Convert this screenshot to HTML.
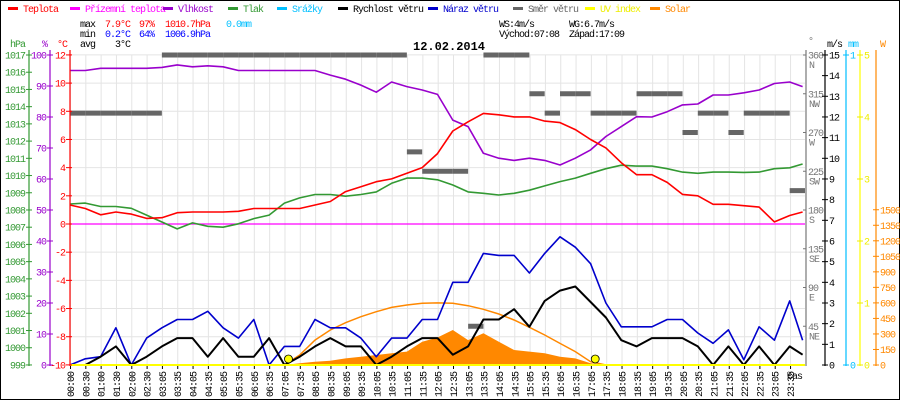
<!DOCTYPE html>
<html><head><meta charset="utf-8"><style>
html,body{margin:0;padding:0;background:#fff}
#wrap{position:relative;width:900px;height:400px;overflow:hidden}
svg text{font-family:"Liberation Mono",monospace;font-size:10px;letter-spacing:-1px}
</style></head><body>
<div id="wrap">
<svg id="chart" width="900" height="400" xmlns="http://www.w3.org/2000/svg">
<rect x="0.5" y="0.5" width="899" height="399" fill="#fff" stroke="#000"/>
<g id="legend"></g>
<g id="grid"></g>
<g id="series"></g>
<g id="axes"></g>
<g>
<text x="80" y="27" fill="#000">max</text>
<text x="105" y="27" fill="#f00">7.9°C</text>
<text x="139" y="27" fill="#f00">97%</text>
<text x="165" y="27" fill="#f00">1010.7hPa</text>
<text x="226" y="27" fill="#00bfff">0.0mm</text>
<text x="80" y="37" fill="#000">min</text>
<text x="105" y="37" fill="#00f">0.2°C</text>
<text x="139" y="37" fill="#00f">64%</text>
<text x="165" y="37" fill="#00f">1006.9hPa</text>
<text x="80" y="47" fill="#000">avg</text>
<text x="115" y="47" fill="#000">3°C</text>
<text x="499" y="27" fill="#000">WS:4m/s</text>
<text x="569" y="27" fill="#000">WG:6.7m/s</text>
<text x="499" y="37" fill="#000">Východ:07:08</text>
<text x="569" y="37" fill="#000">Západ:17:09</text>
<text x="413" y="50" fill="#000" style="font-size:12px;font-weight:bold;letter-spacing:0">12.02.2014</text>
<text x="787" y="379" fill="#000">čas</text>
</g>
</svg>
</div>
<script>
const temp=[1.35,1.1,0.65,0.85,0.7,0.4,0.45,0.8,0.85,0.85,0.85,0.9,1.1,1.1,1.1,1.1,1.35,1.6,2.3,2.65,3.0,3.2,3.6,4.0,5.0,6.6,7.25,7.85,7.75,7.6,7.6,7.3,7.2,6.7,6.0,5.4,4.35,3.5,3.5,2.95,2.1,2.0,1.4,1.4,1.3,1.2,0.15,0.6,0.85];
const hum=[95,95,95.7,95.7,95.7,95.7,96,96.8,96.2,96.5,96.2,95,95,95,95,95,95,93.5,92.2,90.3,88,91.3,89.8,88.7,87.3,79,76.9,68.3,66.7,66,66.7,66,64.5,66.7,69.4,73.7,76.9,80.1,80,81.7,83.9,84.2,87.1,87.1,87.8,88.7,90.8,91.3,89.8];
const pres=[1008.35,1008.4,1008.2,1008.2,1008.1,1007.7,1007.3,1006.9,1007.25,1007.05,1007.0,1007.2,1007.5,1007.7,1008.4,1008.7,1008.9,1008.9,1008.8,1008.9,1009.05,1009.55,1009.85,1009.85,1009.75,1009.45,1009.05,1008.97,1008.87,1008.97,1009.15,1009.4,1009.65,1009.85,1010.13,1010.4,1010.6,1010.55,1010.55,1010.4,1010.2,1010.13,1010.2,1010.2,1010.18,1010.2,1010.4,1010.45,1010.67];
const wind=[0,0,0.4,0.9,0,0.4,0.9,1.3,1.3,0.4,1.3,0.4,0.4,1.3,0,0.4,0.9,1.3,0.9,0.9,0,0.4,0.9,1.3,1.3,0.5,0.9,2.2,2.2,2.7,1.85,3.1,3.6,3.8,3.05,2.3,1.2,0.9,1.3,1.3,1.3,0.9,0,0.9,0,0.9,0,0.9,0.5];
const gust=[0,0.3,0.4,1.8,0,1.3,1.8,2.2,2.2,2.6,1.8,1.3,2.2,0,0.9,0.9,2.2,1.8,1.8,1.3,0.4,1.3,1.3,2.2,2.2,4.0,4.0,5.4,5.3,5.3,4.45,5.4,6.2,5.7,4.9,3.0,1.85,1.85,1.85,2.2,2.2,1.55,1.05,1.7,0.25,1.85,1.2,3.1,1.2];
const solar=[0,0,0,0,0,0,0,0,0,0,0,0,0,0,0,16,32,42,64,80,97,113,129,225,266,338,241,306,225,145,129,113,80,64,16,0,0,0,0,0,0,0,0,0,0,0,0,0,0];
const solarTheo=[0,0,0,0,0,0,0,0,0,0,0,0,0,0,0,97,241,338,409,467,515,557,580,596,600,596,573,538,493,435,364,290,209,129,32,0,0,0,0,0,0,0,0,0,0,0,0,0,0];
const dir=[292.5,292.5,292.5,292.5,292.5,292.5,360,360,360,360,360,360,360,360,360,360,360,360,360,360,360,360,247.5,225,225,225,45,360,360,360,315,292.5,315,315,292.5,292.5,292.5,315,315,315,270,292.5,292.5,270,292.5,292.5,292.5,202.5];
const timeLabels=["00:00","00:30","01:00","01:30","02:00","02:30","03:05","03:35","04:05","04:35","05:05","05:35","06:05","06:35","07:05","07:35","08:05","08:35","09:05","09:35","10:05","10:35","11:05","11:35","12:05","12:35","13:05","13:35","14:05","14:35","15:05","15:35","16:05","16:35","17:05","17:35","18:05","18:35","19:05","19:35","20:05","20:35","21:05","21:35","22:05","22:35","23:05","23:35"];
const tempTicks=[12,10,8,6,4,2,0,-2,-4,-6,-8,-10];
const presTicks=[1017,1016,1015,1014,1013,1012,1011,1010,1009,1008,1007,1006,1005,1004,1003,1002,1001,1000,999];
const humTicks=[100,90,80,70,60,50,40,30,20,10,0];
const windTicks=[15,14,13,12,11,10,9,8,7,6,5,4,3,2,1,0];
const dirTicks=[360,315,270,225,180,135,90,45];
const dirNames=["N","NW","W","SW","S","SE","E","NE"];
const uvTicks=[5,4,3,2,1,0];
const solarTicks=[1500,1350,1200,1050,900,750,600,450,300,150,0];

const X0=70,X1=805;
const xT=h=>X0+h*(X1-X0)/24;
const xi=i=>xT(Math.min(i*0.5,23.92));
const yT=v=>224-v*14.09;
const yH=v=>365-v*3.1;
const yP=v=>55+(1017-v)*17.22;
const yW=v=>365-v*20.67;
const yS=v=>365-v*0.1035;
const yD=v=>365-v*0.8611;
const NS="http://www.w3.org/2000/svg";
function mk(parent,tag,attrs){const e=document.createElementNS(NS,tag);for(const k in attrs)e.setAttribute(k,attrs[k]);parent.appendChild(e);return e;}
function txt(parent,x,y,s,fill,anchor){const e=mk(parent,'text',{x:x,y:y,fill:fill,'text-anchor':anchor||'start'});e.textContent=s;return e;}
const L=document.getElementById('legend'),G=document.getElementById('grid'),S=document.getElementById('series'),A=document.getElementById('axes');

const legItems=[["Teplota","#f00",8],["Přízemní teplota","#f0f",70],["Vlhkost","#90c",163],["Tlak","#393",228],["Srážky","#00bfff",277],["Rychlost větru","#000",338],["Náraz větru","#00c",428],["Směr větru","#666",513],["UV index","#ff0",585],["Solar","#f80",650]];
legItems.forEach(it=>{
  const g=mk(L,'g',{});
  
  
  mk(g,'rect',{x:it[2],y:7,width:10,height:3,fill:it[1]});
  txt(g,it[2]+15,12,it[0],it[0]==="UV index"?"#ee0":it[1]);
});

timeLabels.forEach((s,i)=>{
  const x=X0+0.5+i*15.32;
  const l=mk(G,'line',{x1:x,y1:55,x2:x,y2:365,stroke:'#e4e4e4'});
  
  
  mk(G,'line',{x1:x,y1:365,x2:x,y2:369,stroke:'#000'});
  const t=txt(G,0,0,s,'#000','end');
  t.setAttribute('transform',`translate(${x+3.5},372) rotate(-90)`);
  
  
});
tempTicks.forEach(v=>{
  const l=mk(G,'line',{x1:X0,y1:yT(v),x2:X1,y2:yT(v),stroke:'#e4e4e4'});
  
  
});

function poly(arr,yf,color,w,name){
  const pts=arr.map((v,i)=>xi(i).toFixed(1)+','+yf(v).toFixed(1)).join(' ');
  const p=mk(S,'polyline',{points:pts,fill:'none',stroke:color,'stroke-width':w,'stroke-linejoin':'round'});
  
  
}
{
  let pts=xi(0)+','+yS(0)+' '+solar.map((v,i)=>xi(i).toFixed(1)+','+yS(v).toFixed(1)).join(' ')+' '+xi(solar.length-1)+','+yS(0);
  const p=mk(S,'polygon',{points:pts,fill:'#f80'});
  
  
}
{
  const seg=solarTheo.map((v,i)=>[i,v]).filter(d=>d[0]>=14&&d[0]<=35);
  const p=mk(S,'polyline',{points:seg.map(d=>xi(d[0]).toFixed(1)+','+yS(d[1]).toFixed(1)).join(' '),fill:'none',stroke:'#f80','stroke-width':1.5});
  
  
}
dir.forEach((d,i)=>{
  const r=mk(S,'rect',{x:xi(i),y:yD(d)-2.5,width:15.3,height:5,fill:'#666'});
  
  
});
{const l=mk(S,'line',{x1:X0,y1:yT(0),x2:X1,y2:yT(0),stroke:'#f0f','stroke-width':1.2});

}
poly(hum,yH,'#90c',1.6,'humidity-line');
poly(pres,yP,'#393',1.6,'pressure-line');
poly(temp,yT,'#f00',1.6,'temperature-line');
poly(gust,yW,'#00c',1.6,'wind-gust-line');
poly(wind,yW,'#000',2,'wind-speed-line');
{const l=mk(S,'line',{x1:X0,y1:365,x2:X1,y2:365,stroke:'#ff0','stroke-width':2});

}
[[7+8/60,'sunrise-marker'],[17+9/60,'sunset-marker']].forEach(s=>{
  const c=mk(S,'circle',{cx:xT(s[0]),cy:359,r:4,fill:'#ff0',stroke:'#000','stroke-width':0.8});
  
  
});

function vaxis(x,color,name){const l=mk(A,'line',{x1:x,y1:50,x2:x,y2:366,stroke:color,'stroke-width':1.2});}
vaxis(29,'#393','pressure-axis');vaxis(50,'#90c','humidity-axis');vaxis(70,'#f00','temperature-axis');
vaxis(806,'#777','direction-axis');vaxis(825,'#000','wind-axis');vaxis(846,'#00bfff','rain-axis');vaxis(860,'#ff0','uv-axis');vaxis(876,'#f80','solar-axis');
txt(A,25,47,'hPa','#393','end');txt(A,47,47,'%','#90c','end');txt(A,67,47,'°C','#f00','end');
txt(A,808,44,'°','#777');txt(A,827,47,'m/s','#000');txt(A,848,47,'mm','#00bfff');txt(A,880,47,'W','#f80');
presTicks.forEach(v=>{mk(A,'line',{x1:26,y1:yP(v),x2:32,y2:yP(v),stroke:'#393'});txt(A,25,yP(v)+3.5,String(v),'#393','end');});
humTicks.forEach(v=>{mk(A,'line',{x1:47,y1:yH(v),x2:53,y2:yH(v),stroke:'#90c'});txt(A,46,yH(v)+3.5,String(v),'#90c','end');});
tempTicks.forEach(v=>{mk(A,'line',{x1:66,y1:yT(v),x2:72,y2:yT(v),stroke:'#f00'});txt(A,65,yT(v)+3.5,String(v),'#f00','end');});
dirTicks.forEach((v,i)=>{mk(A,'line',{x1:803,y1:yD(v),x2:806,y2:yD(v),stroke:'#777'});txt(A,808,yD(v)+3.5,String(v),'#777');txt(A,809,yD(v)+13,dirNames[i],'#777');});
windTicks.forEach(v=>{mk(A,'line',{x1:822,y1:yW(v),x2:828,y2:yW(v),stroke:'#000'});txt(A,829,yW(v)+3.5,String(v),'#000');});
[[1,55],[0,365]].forEach(d=>{mk(A,'line',{x1:843,y1:d[1],x2:849,y2:d[1],stroke:'#00bfff'});txt(A,850,d[1]+3.5,String(d[0]),'#00bfff');});
uvTicks.forEach(v=>{const y=365-v*62;mk(A,'line',{x1:857,y1:y,x2:863,y2:y,stroke:'#ee0'});txt(A,864,y+3.5,String(v),'#ee0');});
solarTicks.forEach(v=>{mk(A,'line',{x1:873,y1:yS(v),x2:879,y2:yS(v),stroke:'#f80'});txt(A,880,yS(v)+3.5,String(v),'#f80');});
</script>
</body></html>
